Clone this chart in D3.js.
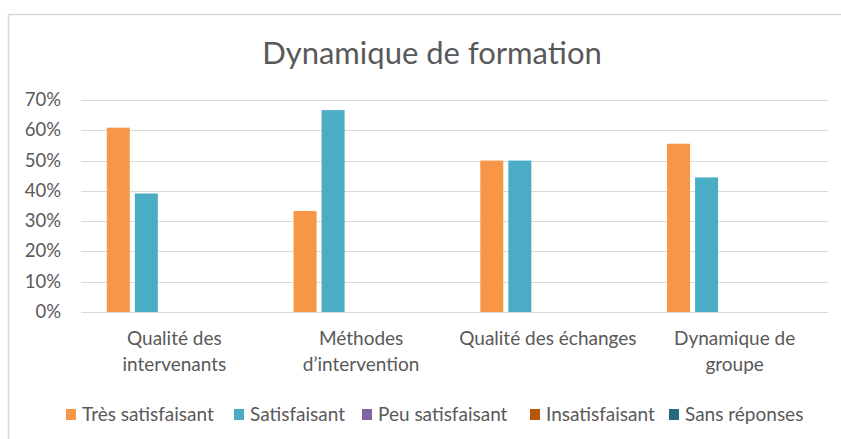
<!DOCTYPE html>
<html>
<head>
<meta charset="utf-8">
<script src="https://cdn.jsdelivr.net/npm/d3@7"></script>
<style>
  body { margin: 0; background: #fff; }
  svg { display: block; }
  text { font-family: Lato, "Open Sans", sans-serif; fill: #595959; }
</style>
</head>
<body>
<div id="chart"></div>
<script>
const categories = ["Qualité des\nintervenants", "Méthodes\nd\u2019intervention", "Qualité des échanges", "Dynamique de\ngroupe"];
const seriesNames = ["Très satisfaisant", "Satisfaisant", "Peu satisfaisant", "Insatisfaisant", "Sans réponses"];
const seriesColors = ["#F79646", "#4BACC6", "#8064A2", "#B65708", "#276A7C"];
const tresSatisfaisant = [0.6087, 0.3333, 0.5, 0.5556];
const satisfaisant = [0.3913, 0.6667, 0.5, 0.4444];
const peuSatisfaisant = [0, 0, 0, 0];
const insatisfaisant = [0, 0, 0, 0];
const sansReponses = [0, 0, 0, 0];
const yTicks = [0, 0.1, 0.2, 0.3, 0.4, 0.5, 0.6, 0.7];

const width = 841, height = 439;
const values = [tresSatisfaisant, satisfaisant, peuSatisfaisant, insatisfaisant, sansReponses];

const svg = d3.select("#chart").append("svg")
  .attr("width", width)
  .attr("height", height);

// outer frame (runs off the right and bottom edges)
svg.append("rect")
  .attr("x", 8.5).attr("y", 14.5)
  .attr("width", 840).attr("height", 440)
  .attr("fill", "#fff")
  .attr("stroke", "#D9D9D9")
  .attr("stroke-width", 1.5);

svg.append("text")
  .attr("x", 432).attr("y", 64)
  .attr("text-anchor", "middle")
  .attr("font-size", "31px")
  .text("Dynamique de formation");

let x = d3.scaleBand().domain(categories).range([81, 828]);
let xs = d3.scaleBand().domain(seriesNames).range([0, x.bandwidth()])
  .paddingInner(0.18).paddingOuter(0.92);
let y = d3.scaleLinear().domain([0, 0.7]).range([312, 100]);

// gridlines
svg.append("g")
  .selectAll("line")
  .data(yTicks)
  .join("line")
  .attr("x1", 81).attr("x2", 828)
  .attr("y1", d => Math.round(y(d)) + 0.5)
  .attr("y2", d => Math.round(y(d)) + 0.5)
  .attr("stroke", "#D9D9D9");

svg.append("g")
  .selectAll("text")
  .data(yTicks)
  .join("text")
  .attr("x", 61)
  .attr("y", d => y(d) + 6)
  .attr("text-anchor", "end")
  .attr("font-size", "18.5px")
  .text(d => d3.format(".0%")(d));

// bars
const groups = svg.append("g")
  .selectAll("g")
  .data(seriesNames)
  .join("g")
  .attr("fill", (d, i) => seriesColors[i]);

groups.selectAll("rect")
  .data((s, i) => categories.map((c, j) => ({ c: c, s: s, v: values[i][j] })))
  .join("rect")
  .attr("x", d => x(d.c) + xs(d.s))
  .attr("width", xs.bandwidth())
  .attr("y", d => y(d.v))
  .attr("height", d => y(0) - y(d.v));

// category labels
const catLabels = svg.append("g")
  .selectAll("text")
  .data(categories)
  .join("text")
  .attr("text-anchor", "middle")
  .attr("font-size", "19px")
  .attr("x", d => x(d) + x.bandwidth() / 2)
  .attr("y", 345);

catLabels.selectAll("tspan")
  .data(d => d.split("\n"))
  .join("tspan")
  .attr("x", function () { return d3.select(this.parentNode).attr("x"); })
  .attr("dy", (d, i) => i === 0 ? 0 : 26)
  .text(d => d);

// legend
const legendX = [66, 234, 362, 530, 669];
const legend = svg.append("g")
  .selectAll("g")
  .data(seriesNames)
  .join("g")
  .attr("transform", (d, i) => `translate(${legendX[i]},409)`);

legend.append("rect")
  .attr("width", 10).attr("height", 11)
  .attr("fill", (d, i) => seriesColors[i]);

legend.append("text")
  .attr("x", 16).attr("y", 12)
  .attr("font-size", "19px")
  .text(d => d);
</script>
</body>
</html>
